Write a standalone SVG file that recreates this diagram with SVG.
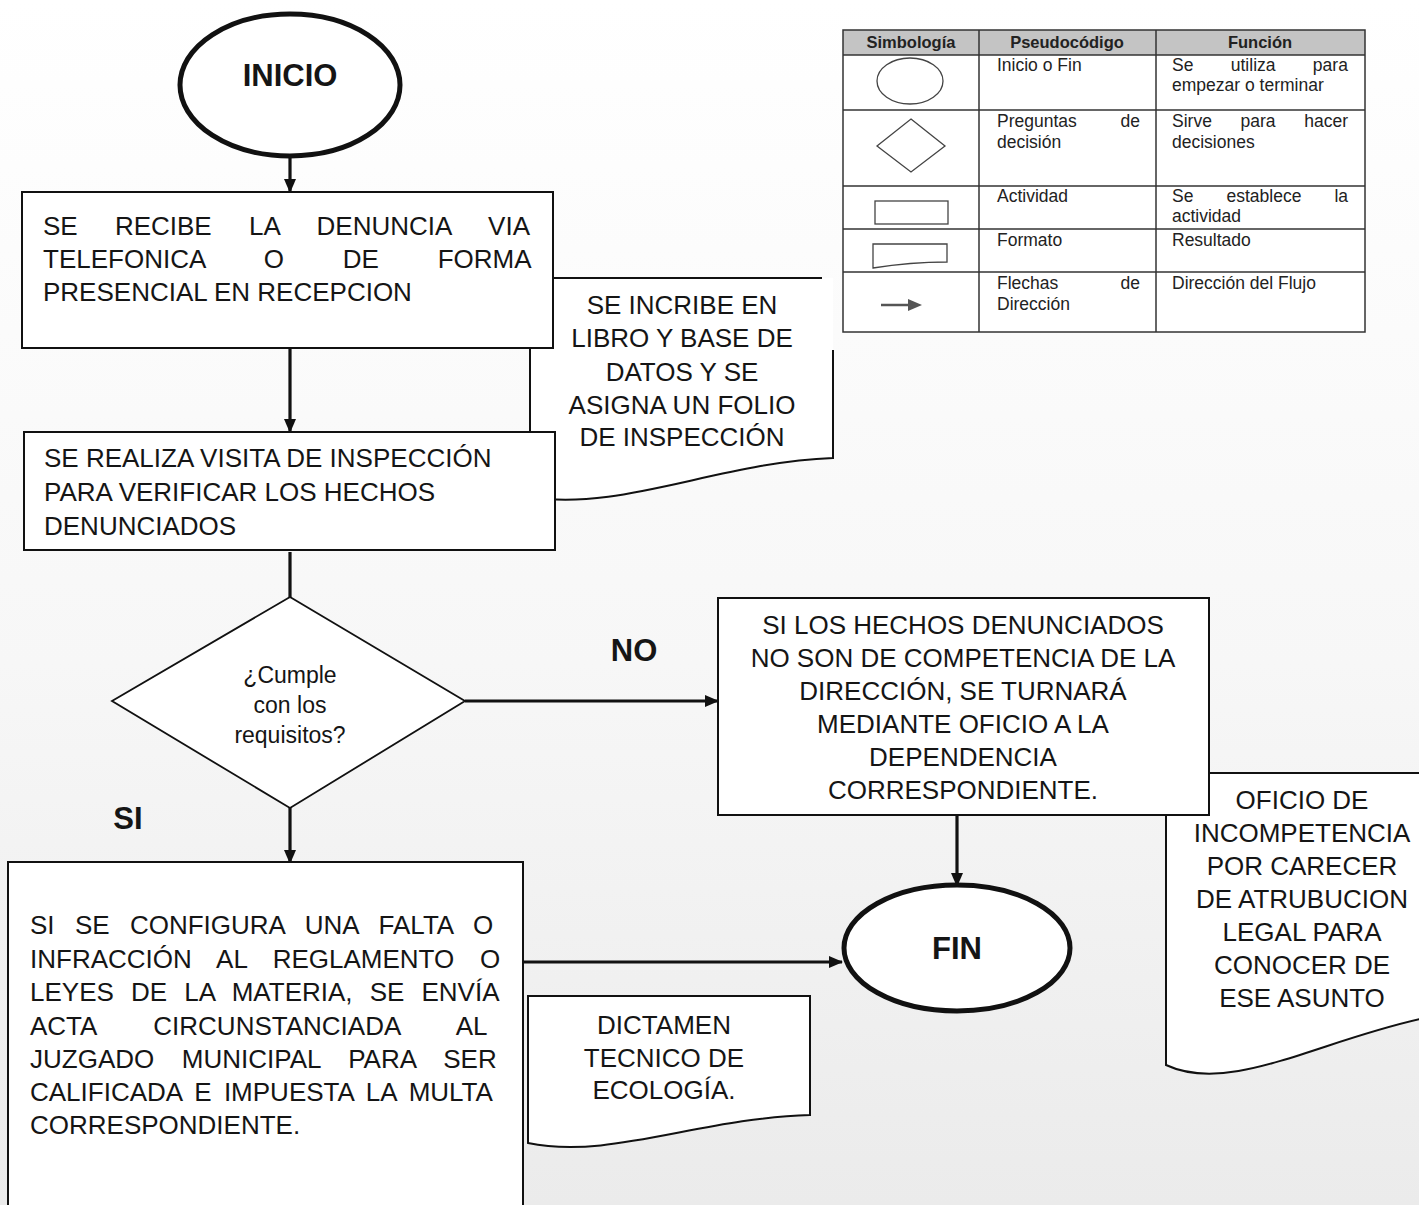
<svg xmlns="http://www.w3.org/2000/svg" width="1419" height="1205" viewBox="0 0 1419 1205">
<defs>
<linearGradient id="bg" x1="0" y1="0" x2="0" y2="1">
<stop offset="0" stop-color="#ffffff"/>
<stop offset="0.55" stop-color="#f7f7f7"/>
<stop offset="1" stop-color="#ebebeb"/>
</linearGradient>
<marker id="ah" viewBox="0 0 14 12" refX="13" refY="6" markerWidth="14" markerHeight="12" markerUnits="userSpaceOnUse" orient="auto">
<path d="M0,0 L14,6 L0,12 Z" fill="#111"/>
</marker>
<marker id="ahs" viewBox="0 0 14 12" refX="13" refY="6" markerWidth="14" markerHeight="12" markerUnits="userSpaceOnUse" orient="auto">
<path d="M0,0 L14,6 L0,12 Z" fill="#555"/>
</marker>
</defs>
<style>
.box{fill:#fff;stroke:#111;stroke-width:2}
.doc{fill:#fff;stroke:#111;stroke-width:2}
.term{fill:#fff;stroke:#111;stroke-width:5}
.dec{fill:#fff;stroke:#111;stroke-width:1.8}
.conn{fill:none;stroke:#111;stroke-width:3.2}
.t{font-family:"Liberation Sans",Arial,sans-serif;font-size:26px;fill:#151515}
.c{text-anchor:middle}
.b{font-family:"Liberation Sans",Arial,sans-serif;font-size:31px;font-weight:bold;fill:#151515}
.q{font-family:"Liberation Sans",Arial,sans-serif;font-size:23px;fill:#151515;text-anchor:middle}
.lg{font-family:"Liberation Sans",Arial,sans-serif;font-size:17.5px;fill:#222}
.lh{font-family:"Liberation Sans",Arial,sans-serif;font-size:16.5px;font-weight:bold;fill:#222;text-anchor:middle}
.tl{fill:none;stroke:#333;stroke-width:1.5}
.sym{fill:#fff;stroke:#444;stroke-width:1.3}
</style>
<rect x="0" y="0" width="1419" height="1205" fill="url(#bg)"/>

<!-- Legend table -->
<g id="legend">
<rect x="843" y="30" width="522" height="25" fill="#c4c4c4"/>
<rect x="843" y="55" width="522" height="277" fill="#fff"/>
<rect x="843" y="30" width="522" height="302" class="tl"/>
<line x1="843" y1="55" x2="1365" y2="55" class="tl"/>
<line x1="843" y1="110" x2="1365" y2="110" class="tl"/>
<line x1="843" y1="186" x2="1365" y2="186" class="tl"/>
<line x1="843" y1="229" x2="1365" y2="229" class="tl"/>
<line x1="843" y1="272" x2="1365" y2="272" class="tl"/>
<line x1="979" y1="30" x2="979" y2="332" class="tl"/>
<line x1="1156" y1="30" x2="1156" y2="332" class="tl"/>
<text x="911" y="48" class="lh">Simbología</text>
<text x="1067" y="48" class="lh">Pseudocódigo</text>
<text x="1260" y="48" class="lh">Función</text>
<ellipse cx="910" cy="81" rx="33" ry="23" class="sym"/>
<path d="M911,119 L945,146 L911,172 L877,146 Z" class="sym"/>
<rect x="875" y="201" width="73" height="23" class="sym"/>
<path d="M873,244 H947 V262 C920,262 898,264 873,268 Z" class="sym"/>
<line x1="881" y1="305" x2="909" y2="305" stroke="#555" stroke-width="2.5"/>
<path d="M908,299 L922,305 L908,311 Z" fill="#555"/>
<text x="997" y="71" class="lg">Inicio o Fin</text>
<text x="997" y="127" class="lg" style="word-spacing:38.9px">Preguntas de</text>
<text x="997" y="148" class="lg">decisión</text>
<text x="997" y="202" class="lg">Actividad</text>
<text x="997" y="246" class="lg">Formato</text>
<text x="997" y="289" class="lg" style="word-spacing:57.4px">Flechas de</text>
<text x="997" y="310" class="lg">Dirección</text>
<text x="1172" y="71" class="lg" style="word-spacing:32.5px">Se utiliza para</text>
<text x="1172" y="91" class="lg">empezar o terminar</text>
<text x="1172" y="127" class="lg" style="word-spacing:23.8px">Sirve para hacer</text>
<text x="1172" y="148" class="lg">decisiones</text>
<text x="1172" y="202" class="lg" style="word-spacing:28.2px">Se establece la</text>
<text x="1172" y="222" class="lg">actividad</text>
<text x="1172" y="246" class="lg">Resultado</text>
<text x="1172" y="289" class="lg">Dirección del Flujo</text>
</g>

<!-- Document shapes (behind boxes) -->
<g id="doc-libro">
<path d="M530,278 H833 V458 C720,462 620,512 530,497 Z" fill="#fff"/>
<path d="M822,278 H530 V497 C620,512 720,462 833,458 V350" class="doc" fill="none"/>
<text class="t c" x="682" y="314">SE INCRIBE EN</text>
<text class="t c" x="682" y="347">LIBRO Y BASE DE</text>
<text class="t c" x="682" y="381">DATOS Y SE</text>
<text class="t c" x="682" y="414">ASIGNA UN FOLIO</text>
<text class="t c" x="682" y="446">DE INSPECCIÓN</text>
</g>

<g id="doc-oficio">
<path d="M1166,773 H1425 V1018 C1320,1040 1230,1095 1166,1065 Z" class="doc"/>
<text class="t c" x="1302" y="809">OFICIO DE</text>
<text class="t c" x="1302" y="842">INCOMPETENCIA</text>
<text class="t c" x="1302" y="875">POR CARECER</text>
<text class="t c" x="1302" y="908">DE ATRUBUCION</text>
<text class="t c" x="1302" y="941">LEGAL PARA</text>
<text class="t c" x="1302" y="974">CONOCER DE</text>
<text class="t c" x="1302" y="1007">ESE ASUNTO</text>
</g>

<g id="doc-dictamen">
<path d="M528,996 H810 V1115 C700,1118 610,1160 528,1143 Z" class="doc"/>
<text class="t c" x="664" y="1034">DICTAMEN</text>
<text class="t c" x="664" y="1067">TECNICO DE</text>
<text class="t c" x="664" y="1099">ECOLOGÍA.</text>
</g>

<!-- Connectors -->
<g id="connectors">
<path d="M290,157 V192" class="conn" marker-end="url(#ah)"/>
<path d="M290,348 V432" class="conn" marker-end="url(#ah)"/>
<path d="M290,552 V597" class="conn"/>
<path d="M465,701 H718" class="conn" marker-end="url(#ah)"/>
<path d="M290,808 V863" class="conn" marker-end="url(#ah)"/>
<path d="M957,815 V886" class="conn" marker-end="url(#ah)"/>
<path d="M523,962 H842" class="conn" marker-end="url(#ah)"/>
</g>

<!-- Nodes -->
<g id="inicio">
<ellipse cx="290" cy="85" rx="110" ry="71" class="term"/>
<text class="b c" x="290" y="86">INICIO</text>
</g>

<g id="recibe">
<rect x="22" y="192" width="531" height="156" class="box"/>
<text class="t" x="43" y="235" style="word-spacing:30px">SE RECIBE LA DENUNCIA VIA</text>
<text class="t" x="43" y="268" style="word-spacing:51.6px">TELEFONICA O DE FORMA</text>
<text class="t" x="43" y="301">PRESENCIAL EN RECEPCION</text>
</g>

<g id="visita">
<rect x="24" y="432" width="531" height="118" class="box"/>
<text class="t" x="44" y="467">SE REALIZA VISITA DE INSPECCIÓN</text>
<text class="t" x="44" y="501">PARA VERIFICAR LOS HECHOS</text>
<text class="t" x="44" y="535">DENUNCIADOS</text>
</g>

<g id="decision">
<path d="M290,597 L465,701 L290,808 L112,701 Z" class="dec"/>
<text class="q" x="290" y="683">¿Cumple</text>
<text class="q" x="290" y="713">con los</text>
<text class="q" x="290" y="743">requisitos?</text>
</g>

<g id="label-no"><text class="b c" x="634" y="661">NO</text></g>
<g id="label-si"><text class="b c" x="128" y="829">SI</text></g>

<g id="turnar">
<rect x="718" y="598" width="491" height="217" class="box"/>
<text class="t c" x="963" y="634">SI LOS HECHOS DENUNCIADOS</text>
<text class="t c" x="963" y="667">NO SON DE COMPETENCIA DE LA</text>
<text class="t c" x="963" y="700">DIRECCIÓN, SE TURNARÁ</text>
<text class="t c" x="963" y="733">MEDIANTE OFICIO A LA</text>
<text class="t c" x="963" y="766">DEPENDENCIA</text>
<text class="t c" x="963" y="799">CORRESPONDIENTE.</text>
</g>

<g id="fin">
<ellipse cx="957" cy="948" rx="113" ry="63" class="term"/>
<text class="b c" x="957" y="959">FIN</text>
</g>

<g id="falta">
<rect x="8" y="862" width="515" height="360" class="box"/>
<text class="t" x="30" y="934" style="word-spacing:13.1px">SI SE CONFIGURA UNA FALTA O</text>
<text class="t" x="30" y="968" style="word-spacing:18.5px">INFRACCIÓN AL REGLAMENTO O</text>
<text class="t" x="30" y="1001" style="word-spacing:9.9px">LEYES DE LA MATERIA, SE ENVÍA</text>
<text class="t" x="30" y="1035" style="word-spacing:50.1px">ACTA CIRCUNSTANCIADA AL</text>
<text class="t" x="30" y="1068" style="word-spacing:20.4px">JUZGADO MUNICIPAL PARA SER</text>
<text class="t" x="30" y="1101" style="word-spacing:5.2px">CALIFICADA E IMPUESTA LA MULTA</text>
<text class="t" x="30" y="1134">CORRESPONDIENTE.</text>
</g>
</svg>
